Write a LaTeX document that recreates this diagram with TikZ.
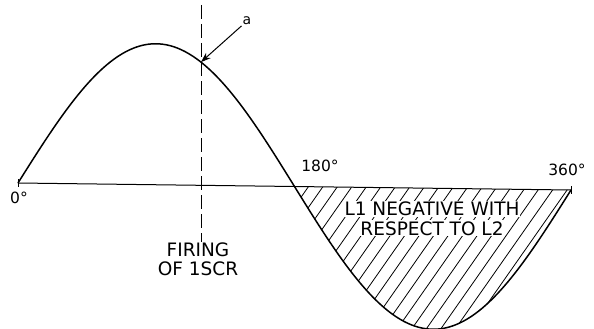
\documentclass[tikz,border=0pt]{standalone}
\usepackage{fontspec}
\setmainfont{DejaVu Sans}
\usetikzlibrary{positioning, arrows.meta}

\begin{document}
\begin{tikzpicture}[>={Stealth[length=10pt, width=7pt]}, x=1pt, y=-1pt,
    lbl/.style={font=\fontsize{18.5}{21}\selectfont, inner sep=1pt},
    deg/.style={font=\fontsize{15.5}{18}\selectfont, inner sep=1pt},
    hatchline/.style={line width=0.8pt},
    wave/.style={line width=1.5pt}]
  \useasboundingbox (0,0) rectangle (594,329);
  % axis from 0 to 360 deg (scan is slightly tilted)
  \coordinate (O) at (18,183);
  \coordinate (E) at (571,190);
  \coordinate (H) at (297.6,186.6);
  \draw[line width=1pt] (O) -- (E);
  \draw[line width=0.8pt] (O) ++(0,-4) -- ++(0,8);
  \draw[line width=0.8pt] (E) ++(0,-4) -- ++(0,8);
  % hatching of the negative half
  \begin{scope}
    \clip (H) -- plot[domain=180:360, samples=80] ({18+\x/360*553}, {183+\x/360*7-141*sin(\x)}) -- cycle;
    \foreach \s in {190,204.5,...,600}
      \draw[hatchline] (\s,335) -- ++(110,-157);
  \end{scope}
  % the wave
  \draw[wave] plot[domain=0:360, samples=150, smooth] ({18+\x/360*553}, {183+\x/360*7-141*sin(\x)});
  \coordinate (fire) at ({18+119.1/360*553}, {183+119.1/360*7-141*sin(119.1)});
  % labels
  \node[deg] (zero) at (19,198) {0°};
  \node[deg] (half) at (320,166) {180°};
  \node[deg] (full) at (567,170) {360°};
  \node[lbl, fill=white] (neg1) at (432,209) {L1 NEGATIVE WITH};
  \node[lbl, fill=white, below=3pt of neg1] (neg2) {RESPECT TO L2};
  \node[lbl] (firing) at (198,250) {FIRING};
  \node[lbl, below=2pt of firing] (ofscr) {OF 1SCR};
  \node[font=\fontsize{14}{16}\selectfont, inner sep=1pt] (alpha) at (247,21) {a};
  % firing line and arrow
  \coordinate (dtop) at (201,5);
  \draw[line width=0.8pt, dash pattern=on 14pt off 5pt] (dtop) -- (dtop |- firing.north);
  \draw[->, line width=1pt] (alpha) -- (fire);
\end{tikzpicture}
\end{document}
